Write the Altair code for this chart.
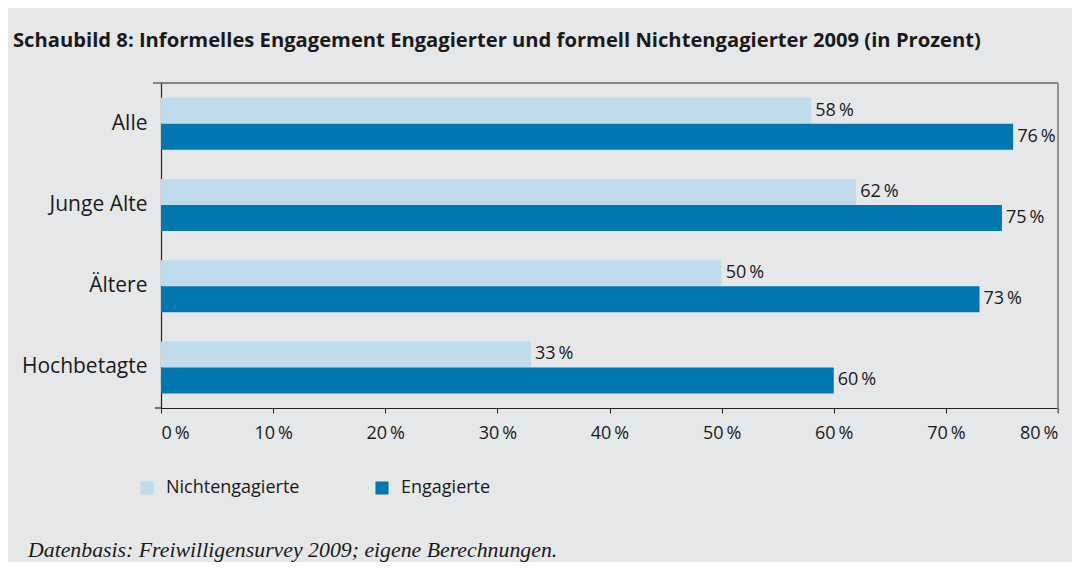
import altair as alt
import pandas as pd

categories = ["Alle", "Junge Alte", "Ältere", "Hochbetagte"]
series = ["Nichtengagierte", "Engagierte"]
nicht = [58, 62, 50, 33]
engag = [76, 75, 73, 60]
x_ticks = [0, 10, 20, 30, 40, 50, 60, 70, 80]
colors = ["#c0dbec", "#0077ae"]

rows = []
for c, a, b in zip(categories, nicht, engag):
    rows.append({"Gruppe": c, "Status": series[0], "Wert": a, "order": 0})
    rows.append({"Gruppe": c, "Status": series[1], "Wert": b, "order": 1})
df = pd.DataFrame(rows)
df["Label"] = df["Wert"].astype(str) + "\u2009%"

W, H = 897, 325
FONT = "Open Sans"

y_enc = alt.Y("Gruppe:N", sort=categories,
              scale=alt.Scale(paddingInner=0.36, paddingOuter=0.18),
              axis=alt.Axis(title=None, labelFont=FONT, labelFontSize=21,
                            labelColor="#1a1a1a", labelPadding=14, ticks=False,
                            domainColor="#222", domainWidth=1.2))
x_enc = alt.X("Wert:Q", scale=alt.Scale(domain=[0, 80], nice=False),
              axis=alt.Axis(title=None, values=x_ticks, grid=False,
                            labelExpr="datum.value + '\u2009%'",
                            labelFont=FONT, labelFontSize=18, labelColor="#1a1a1a",
                            labelPadding=11, tickSize=5, tickColor="#222",
                            domainColor="#222", domainWidth=1.2))

base = alt.Chart(df)
bars = base.mark_bar().encode(
    y=y_enc,
    x=x_enc,
    yOffset=alt.YOffset("order:O", scale=alt.Scale(paddingInner=0, paddingOuter=0)),
    color=alt.Color("Status:N", sort=series,
                    scale=alt.Scale(domain=series, range=colors),
                    legend=alt.Legend(title=None, orient="none", direction="horizontal",
                                      legendX=-23, legendY=396,
                                      symbolType="square", symbolSize=170,
                                      symbolStrokeWidth=0, labelFont=FONT,
                                      labelFontSize=18, labelColor="#1a1a1a",
                                      labelOffset=10, columnPadding=73)),
)
labels = base.mark_text(align="left", baseline="middle", dx=4, font=FONT,
                        fontSize=18, color="#1a1a1a").encode(
    y=alt.Y("Gruppe:N", sort=categories),
    x="Wert:Q",
    yOffset=alt.YOffset("order:O"),
    text="Label:N",
)

frame_df = pd.DataFrame({"k": [0]})
top_rule = alt.Chart(frame_df).mark_rule(color="#222", strokeWidth=1.2).encode(
    x=alt.value(-8), x2=alt.value(W), y=alt.value(0))
right_rule = alt.Chart(frame_df).mark_rule(color="#7a7a7a", strokeWidth=1.5).encode(
    x=alt.value(W), y=alt.value(0), y2=alt.value(H + 5))
bottom_ext = alt.Chart(frame_df).mark_rule(color="#222", strokeWidth=1.2).encode(
    x=alt.value(-6), x2=alt.value(0), y=alt.value(H))

foot = alt.Chart(pd.DataFrame({"t": ["Datenbasis: Freiwilligensurvey 2009; eigene Berechnungen."]})).mark_text(
    align="left", baseline="middle", font="Liberation Serif", fontStyle="italic",
    fontSize=21.8, color="#1a1a1a").encode(
    x=alt.value(-133), y=alt.value(467), text="t:N")

chart = alt.layer(bars, labels, top_rule, right_rule, bottom_ext, foot).properties(
    width=W, height=H,
    title=alt.Title("Schaubild 8: Informelles Engagement Engagierter und formell Nichtengagierter 2009 (in Prozent)",
                    anchor="start", frame="group", dx=-148, offset=31,
                    font=FONT, fontSize=20.2, fontWeight="bold", color="#1a1a1a"),
    autosize=alt.AutoSizeParams(type="none"),
    padding={"left": 153, "top": 75, "right": 14, "bottom": 154},
    background="#e6e7e9",
).configure_view(stroke=None)

chart.save("out.html", embed_options={"renderer": "svg", "actions": False})
